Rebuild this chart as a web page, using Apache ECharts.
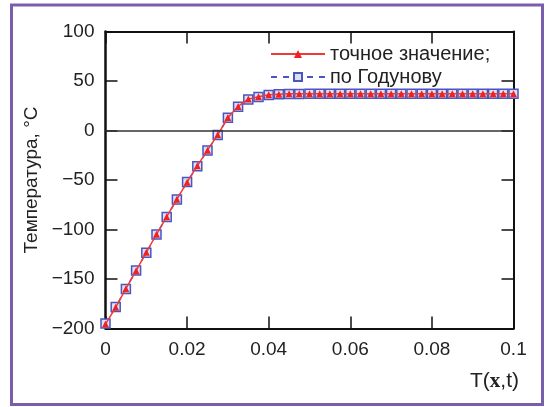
<!DOCTYPE html>
<html>
<head>
<meta charset="utf-8">
<script src="https://cdn.jsdelivr.net/npm/echarts@6/dist/echarts.min.js"></script>
<style>
  html, body { margin: 0; padding: 0; background: #fff; }
  #main { width: 546px; height: 407px; }
</style>
</head>
<body>
<div id="main"></div>
<script>
// время / координата
var xValues = [0, 0.0025, 0.005, 0.0075, 0.01, 0.0125, 0.015, 0.0175, 0.02, 0.0225,
  0.025, 0.0275, 0.03, 0.0325, 0.035, 0.0375, 0.04, 0.0425, 0.045, 0.0475,
  0.05, 0.0525, 0.055, 0.0575, 0.06, 0.0625, 0.065, 0.0675, 0.07, 0.0725,
  0.075, 0.0775, 0.08, 0.0825, 0.085, 0.0875, 0.09, 0.0925, 0.095, 0.0975, 0.1];

// точное значение
var exactT = [-195.5, -178.6, -159.8, -141.6, -123, -104.8, -87, -69.4, -52.2, -35.7,
  -19.9, -4.4, 13.1, 24.3, 31.7, 34, 36, 36.7, 37, 37,
  37, 37, 37, 37, 37, 37, 37, 37, 37, 37,
  37, 37, 37, 37, 37, 37, 37, 37, 37, 37, 37];

// по Годунову
var godunovT = [-195, -178.2, -160, -141.3, -123.4, -105, -87.4, -69.6, -52, -36,
  -20.1, -4.6, 13, 24, 31.4, 33.8, 35.8, 36.5, 36.8, 36.9,
  37, 37, 37, 37, 37, 37, 37, 37, 37, 37,
  37, 37, 37, 37, 37, 37, 37, 37, 37, 37, 37];

var seriesNames = ['точное значение;', 'по Годунову'];
var yAxisName = 'Температура, °C';

function pairs(xs, ys) {
  return xs.map(function (x, i) { return [x, ys[i]]; });
}

var dom = document.getElementById('main');
var myChart = echarts.init(dom, null, { renderer: 'canvas' });

var font = 'Liberation Sans, Arial, sans-serif';

function legendFor(name, top) {
  return {
    left: 270,
    top: top,
    padding: 0,
    itemWidth: 54,
    itemHeight: 10,
    textStyle: { fontSize: 20, color: '#222', fontFamily: font },
    data: [name]
  };
}

var option = {
  animation: false,
  backgroundColor: '#fff',
  textStyle: { fontFamily: font },
  grid: { left: 105.5, right: 32.5, top: 31.5, bottom: 78.5 },
  legend: [legendFor(seriesNames[0], 44), legendFor(seriesNames[1], 67)],
  xAxis: [
    {
      type: 'value',
      min: 0, max: 0.1, interval: 0.02,
      axisLine: { show: true, onZero: false, lineStyle: { color: '#111', width: 2 } },
      axisTick: { show: true, inside: true, length: 12, lineStyle: { color: '#111', width: 1.5 } },
      axisLabel: {
        color: '#222', fontSize: 19, margin: 12,
        formatter: function (v) { return v === 0 ? '0' : String(+v.toFixed(2)); }
      },
      splitLine: { show: false }
    },
    {
      type: 'value', position: 'top',
      min: 0, max: 0.1, interval: 0.02,
      axisLine: { show: true, onZero: false, lineStyle: { color: '#111', width: 2 } },
      axisTick: { show: true, inside: true, length: 12, lineStyle: { color: '#111', width: 1.5 } },
      axisLabel: { show: false },
      splitLine: { show: false }
    }
  ],
  yAxis: [
    {
      type: 'value',
      min: -200, max: 100, interval: 50,
      name: yAxisName,
      nameLocation: 'middle',
      nameGap: 58,
      nameTextStyle: { fontSize: 19, color: '#222' },
      axisLine: { show: true, onZero: false, lineStyle: { color: '#111', width: 2.5 } },
      axisTick: { show: true, inside: true, length: 12, lineStyle: { color: '#111', width: 1.5 } },
      axisLabel: {
        color: '#222', fontSize: 19, margin: 11,
        formatter: function (v) { return v < 0 ? '\u2212' + Math.abs(v) : String(v); }
      },
      splitLine: { show: false }
    },
    {
      type: 'value', position: 'right',
      min: -200, max: 100, interval: 50,
      axisLine: { show: true, onZero: false, lineStyle: { color: '#111', width: 2 } },
      axisTick: { show: true, inside: true, length: 12, lineStyle: { color: '#111', width: 1.5 } },
      axisLabel: { show: false },
      splitLine: { show: false }
    }
  ],
  series: [
    {
      name: seriesNames[1],
      type: 'line',
      data: pairs(xValues, godunovT),
      symbol: 'rect',
      symbolSize: 9,
      z: 2,
      lineStyle: { color: '#4a55bd', width: 1.5, type: [6, 6] },
      itemStyle: { color: '#dde0f5', borderColor: '#4a55bd', borderWidth: 1.5 },
      markLine: {
        silent: true,
        symbol: 'none',
        label: { show: false },
        lineStyle: { color: '#333', width: 1.5, type: 'solid' },
        data: [{ yAxis: 0 }]
      }
    },
    {
      name: seriesNames[0],
      type: 'line',
      data: pairs(xValues, exactT),
      symbol: 'triangle',
      symbolSize: 7,
      z: 3,
      lineStyle: { color: '#f03a3a', width: 1.5 },
      itemStyle: { color: '#ee2222' }
    }
  ],
  graphic: [
    {
      type: 'rect',
      shape: { x: 11.5, y: 5, width: 531, height: 399.5 },
      style: { fill: 'none', stroke: '#7a5eab', lineWidth: 3 },
      silent: true
    },
    {
      type: 'text',
      right: 27,
      top: 371,
      style: {
        text: 'T({b|x},t)',
        font: '21px Liberation Sans, Arial, sans-serif',
        fill: '#222',
        rich: {
          b: { fontFamily: 'Liberation Serif, DejaVu Serif, serif', fontWeight: 'bold', fontSize: 21, fill: '#222' }
        }
      }
    }
  ]
};

myChart.setOption(option);
</script>
</body>
</html>
